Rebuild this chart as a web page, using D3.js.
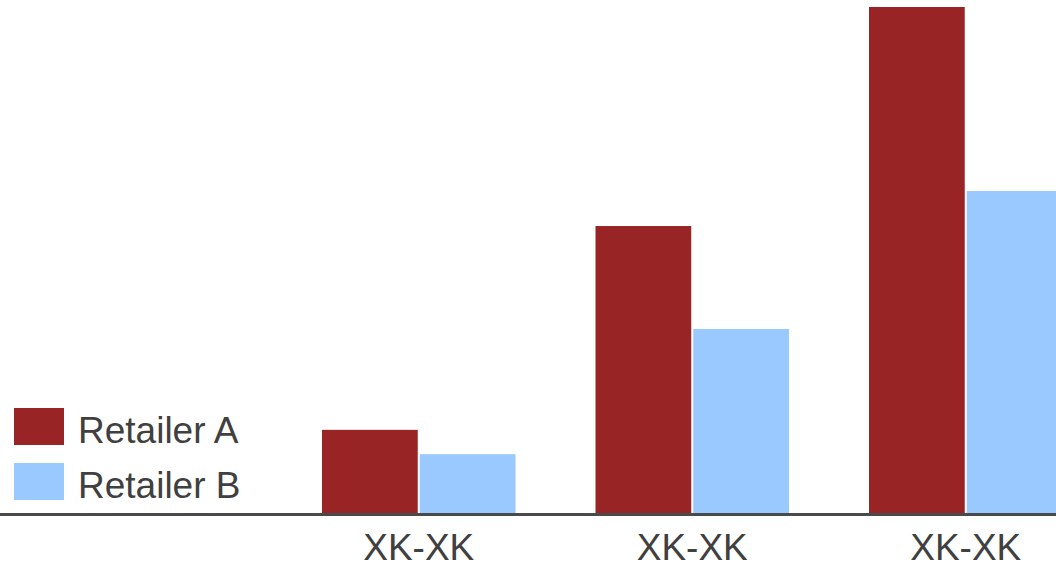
<!DOCTYPE html>
<html>
<head>
<meta charset="utf-8">
<script src="https://cdn.jsdelivr.net/npm/d3@7"></script>
<style>
  html, body { margin: 0; padding: 0; background: #ffffff; }
  svg { display: block; }
  text { font-family: "Liberation Sans", Arial, sans-serif; fill: #404040; }
</style>
</head>
<body>
<svg id="chart" width="1056" height="569"></svg>
<script>
// Category labels along the x axis
const categories = ["XK-XK", "XK-XK", "XK-XK"];
// Series names and colours
const seriesNames = ["Retailer A", "Retailer B"];
const seriesColors = ["#982425", "#99C9FF"];
// Values per category
const retailerA = [16.6, 56.8, 100];
const retailerB = [11.8, 36.5, 63.7];

const width = 1056, height = 569;
const baseline = 514;
const svg = d3.select("#chart");

const groupIdx = d3.range(categories.length);
const rows = groupIdx.map(i => ({ i, values: [retailerA[i], retailerB[i]] }));

// Outer band per category: ~96px bars, 2px gap, 273.5px step
const step = 273.5, groupInnerPad = 80 / step;
const x0 = d3.scaleBand()
  .domain(groupIdx)
  .range([322, 322 + step * (categories.length - groupInnerPad)])
  .paddingInner(groupInnerPad)
  .paddingOuter(0);

const x1 = d3.scaleBand()
  .domain(d3.range(seriesNames.length))
  .range([0, x0.bandwidth()])
  .paddingInner(2 / 97);

const y = d3.scaleLinear().domain([0, 100]).range([baseline, 7]);

// Bars
const groups = svg.append("g").selectAll("g")
  .data(rows)
  .join("g")
  .attr("transform", d => `translate(${x0(d.i)},0)`);

groups.selectAll("rect")
  .data(d => d.values.map((v, s) => ({ v, s })))
  .join("rect")
  .attr("x", d => x1(d.s))
  .attr("y", d => y(d.v))
  .attr("width", x1.bandwidth())
  .attr("height", d => baseline - y(d.v))
  .attr("fill", d => seriesColors[d.s]);

// Category axis
const xAxis = d3.axisBottom(x0)
  .tickFormat(i => categories[i])
  .tickSize(0)
  .tickPadding(20);

const axisG = svg.append("g")
  .attr("transform", `translate(0,${baseline})`)
  .call(xAxis);
axisG.select(".domain").remove();
axisG.selectAll("text")
  .attr("font-size", 37)
  .attr("font-family", "Liberation Sans, Arial, sans-serif")
  .attr("fill", "#404040")
  .attr("dy", "0.71em");

// Baseline rule across the full width
svg.append("line")
  .attr("x1", 0).attr("x2", width)
  .attr("y1", baseline + 0.5).attr("y2", baseline + 0.5)
  .attr("stroke", "#4a4a4a")
  .attr("stroke-width", 3);

// Legend
const legend = svg.append("g").selectAll("g")
  .data(seriesNames)
  .join("g")
  .attr("transform", (d, i) => `translate(14,${408 + i * 55})`);

legend.append("rect")
  .attr("width", 50)
  .attr("height", 37)
  .attr("fill", (d, i) => seriesColors[i]);

legend.append("text")
  .attr("x", 64)
  .attr("y", 35)
  .attr("font-size", 37)
  .text(d => d);
</script>
</body>
</html>
